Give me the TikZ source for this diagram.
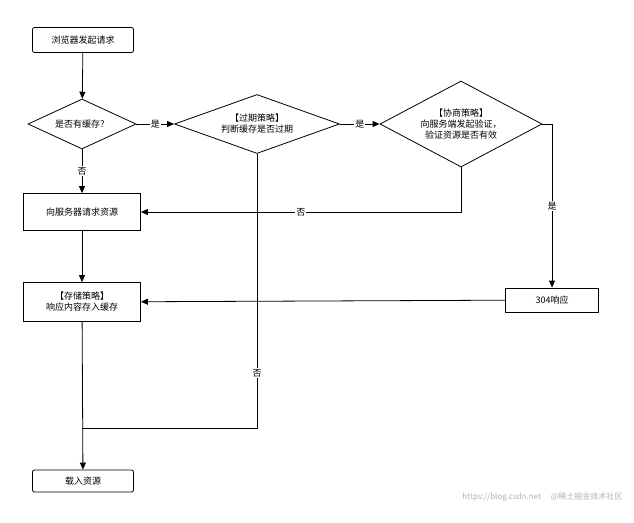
\documentclass[tikz,border=0pt]{standalone}
\usepackage{fontspec}
\setmainfont{Noto Sans CJK SC}
\usetikzlibrary{shapes.geometric,arrows.meta}

\begin{document}
\begin{tikzpicture}[x=1pt,y=-1pt,>={Triangle[length=7pt,width=6pt]},
  font=\fontsize{9}{11}\selectfont,
  box/.style={draw,thick,align=center,inner sep=0pt},
  dec/.style={draw,thick,diamond,aspect=#1,align=center,inner sep=0pt},
  lab/.style={fill=white,inner sep=1pt}]
\useasboundingbox (0,0) rectangle (634,522);

% Start and end
\node[box,rounded corners=2pt,minimum width=101pt,minimum height=25pt] (start) at (83,40) {浏览器发起请求};
\node[box,rounded corners=2pt,minimum width=101pt,minimum height=22pt] (load) at (83,481) {载入资源};

% Decisions
\node[dec=2.2,minimum width=108pt,minimum height=50pt] (cache) at (82,124) {是否有缓存？};
\node[dec=2.8,minimum width=165pt,minimum height=59pt] (expire) at (257,124) {【过期策略】\\判断缓存是否过期};
\node[dec=1.9,minimum width=162pt,minimum height=86pt] (nego) at (461,124) {【协商策略】\\向服务端发起验证，\\验证资源是否有效};

% Actions
\node[box,minimum width=117pt,minimum height=37pt] (req) at (82,212) {向服务器请求资源};
\node[box,minimum width=117pt,minimum height=39pt] (store) at (82,302) {【存储策略】\\响应内容存入缓存};
\node[box,minimum width=93pt,minimum height=24pt] (r304) at (552,300) {304响应};

\coordinate (join) at (82,428);

% Connectors
\draw[thick,->] (start) -- (cache);
\draw[thick,->] (cache) -- node[lab]{是} (expire);
\draw[thick,->] (expire) -- node[lab]{是} (nego);
\draw[thick,->] (cache) -- node[lab]{否} (req);
\draw[thick,->] (nego.south) |- node[lab,pos=0.75]{否} (req.east);
\draw[thick,->] (nego.east) -| node[lab,pos=0.75]{是} (r304.north);
\draw[thick,->] (r304) -- (store);
\draw[thick,->] (req) -- (store);
\draw[thick] (expire.south) |- node[lab,pos=0.4]{否} (join);
\draw[thick,->] (store) -- (load);

% Watermark
\node[gray!60,font=\fontsize{8}{10}\selectfont,anchor=east] (mark) at (626,497) {https://blog.csdn.net \quad @稀土掘金技术社区};
\end{tikzpicture}
\end{document}
